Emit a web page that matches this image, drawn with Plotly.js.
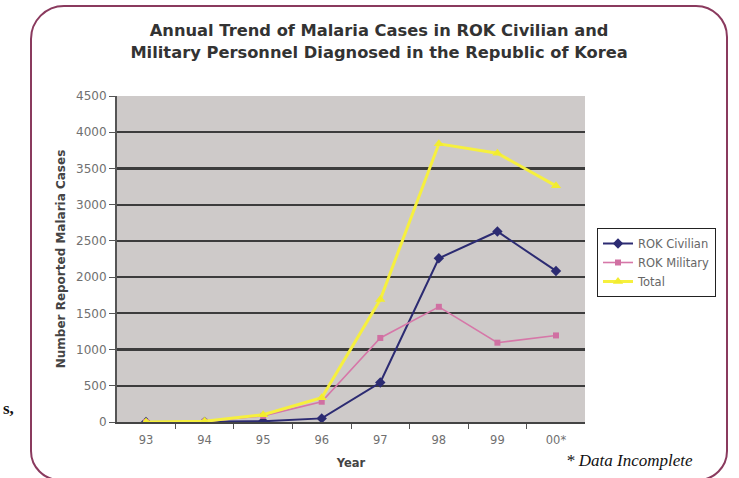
<!DOCTYPE html>
<html>
<head>
<meta charset="utf-8">
<script src="https://cdn.plot.ly/plotly-3.0.1.min.js"></script>
<style>
  html, body { margin: 0; padding: 0; background: #ffffff; overflow: hidden; }
  #wrap { position: relative; width: 739px; height: 478px; }
  #chart { position: absolute; left: 0; top: 0; width: 739px; height: 478px; }
  #frame {
    position: absolute; left: 30px; top: 5px; width: 694px; height: 472px;
    border: 2.6px solid #8A3A5E; border-radius: 34px 32px 30px 30px;
    pointer-events: none;
  }
</style>
</head>
<body>
<div id="wrap">
  <div id="chart"></div>
  <div id="frame"></div>
</div>
<script>
const years = ["93", "94", "95", "96", "97", "98", "99", "00*"];
const civilian = [0, 2, 10, 50, 545, 2260, 2630, 2085];
const military = [0, 5, 85, 280, 1160, 1590, 1095, 1195];
const total = [0, 10, 100, 335, 1690, 3840, 3710, 3260];
const yTicks = [0, 500, 1000, 1500, 2000, 2500, 3000, 3500, 4000, 4500];

const traces = [
  {
    x: years, y: civilian, name: "ROK Civilian", type: "scatter", mode: "lines+markers",
    line: { color: "#2C2B72", width: 2 },
    marker: { symbol: "diamond", size: 8, color: "#2C2B72" }
  },
  {
    x: years, y: military, name: "ROK Military", type: "scatter", mode: "lines+markers",
    line: { color: "#D677A8", width: 1.6 },
    marker: { symbol: "square", size: 6, color: "#D070A2" }
  },
  {
    x: years, y: total, name: "Total", type: "scatter", mode: "lines+markers",
    line: { color: "#F6F03E", width: 3 },
    marker: { symbol: "triangle-up", size: 9, color: "#F2EC30" }
  }
];

const L = 117, R = 585, T = 96, B = 422;
const px = v => (v - L) / (R - L);
const py = v => (B - v) / (B - T);

const layout = {
  width: 739, height: 478,
  margin: { l: L, r: 739 - R, t: T, b: 478 - B, pad: 0 },
  paper_bgcolor: "#ffffff",
  plot_bgcolor: "#CECAC9",
  font: { family: "DejaVu Sans, sans-serif", color: "#666666", size: 12 },
  title: {
    text: "Annual Trend of Malaria Cases in ROK Civilian and<br>Military Personnel Diagnosed in the Republic of Korea",
    font: { family: "DejaVu Sans, sans-serif", size: 16.3, color: "#333333", weight: "bold" },
    x: 0.513, xanchor: "center", y: 0.924, yanchor: "middle"
  },
  xaxis: {
    type: "category",
    tickvals: years, ticktext: years,
    tickson: "boundaries",
    ticks: "outside", ticklen: 5, tickcolor: "#555555", tickwidth: 1,
    showline: true, linecolor: "#444444", linewidth: 2,
    showgrid: false, zeroline: false,
    ticklabelstandoff: 6,
    tickfont: { size: 11.5, color: "#707070" },
    title: { text: "Year", font: { size: 11.5, color: "#444444", weight: "bold" }, standoff: 13 },
    fixedrange: true
  },
  yaxis: {
    range: [0, 4500],
    tickvals: yTicks,
    ticks: "outside", ticklen: 6, tickcolor: "#555555", tickwidth: 1,
    showline: true, linecolor: "#555555", linewidth: 2,
    showgrid: true, gridcolor: "#3C3C3C", gridwidth: 2.2,
    zeroline: false,
    tickfont: { size: 12, color: "#707070" },
    title: { text: "Number Reported Malaria Cases", font: { size: 12, color: "#444444", weight: "bold" }, standoff: 8 },
    fixedrange: true
  },
  showlegend: true,
  legend: {
    x: px(597), y: py(228), xanchor: "left", yanchor: "top",
    bgcolor: "#ffffff", bordercolor: "#222222", borderwidth: 1,
    font: { size: 11.5, color: "#666666" },
    itemwidth: 30, tracegroupgap: 0
  },
  annotations: [
    {
      text: "* Data Incomplete", xref: "paper", yref: "paper",
      x: px(695), y: py(460), xanchor: "right", yanchor: "middle", showarrow: false,
      font: { family: "Liberation Serif, serif", size: 17, color: "#111111", style: "italic" }
    },
    {
      text: "<b>s,</b>", xref: "paper", yref: "paper",
      x: px(1), y: py(408), xanchor: "left", yanchor: "middle", showarrow: false,
      font: { family: "Liberation Serif, serif", size: 17, color: "#111111" }
    }
  ]
};

Plotly.newPlot("chart", traces, layout, { displayModeBar: false, staticPlot: true });
</script>
</body>
</html>
